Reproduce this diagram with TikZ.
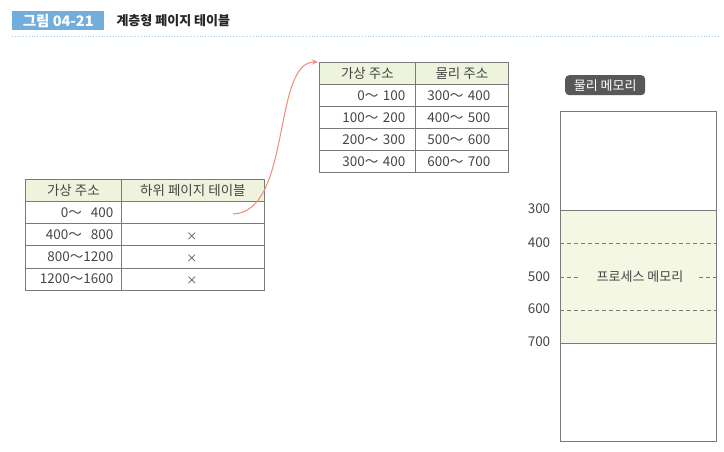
\documentclass[tikz,border=0pt]{standalone}
\usepackage{fontspec}
\setmainfont{Noto Sans CJK KR}
\usetikzlibrary{arrows.meta,calc}
\definecolor{hdrblue}{HTML}{72AEDB}
\definecolor{linegray}{HTML}{7A7A7A}
\definecolor{txtgray}{HTML}{454545}
\definecolor{hdrgreen}{HTML}{EEF3DD}
\definecolor{memgreen}{HTML}{F3F7E3}
\definecolor{arrowred}{HTML}{F28B7A}
\definecolor{labeldark}{HTML}{585858}
\tikzset{
  cell/.style={draw=linegray, line width=0.8pt, anchor=north west, inner sep=0pt,
    font=\fontsize{13.5}{15}\selectfont, text=txtgray},
  hcell/.style={cell, fill=hdrgreen},
  rcell/.style={cell, align=right},
  lcell/.style={cell, align=left},
  xmark/.style={font=\fontsize{11}{12}\selectfont, text=txtgray},
  memlabel/.style={font=\fontsize{13.5}{15}\selectfont, text=txtgray},
  memdash/.style={draw=linegray, dash pattern=on 4pt off 3pt, line width=0.8pt},
}
\begin{document}
\begin{tikzpicture}[x=1pt,y=-1pt]
\useasboundingbox (0,0) rectangle (724,451);
\fill[white] (0,0) rectangle (724,451);
% header
\node[fill=hdrblue, text=white, font=\bfseries\fontsize{14.5}{15}\selectfont,
  minimum width=92pt, minimum height=19pt, inner sep=0pt, anchor=north west] (fig) at (12,11) {그림 04-21};
\node[font=\bfseries\fontsize{13}{14}\selectfont, anchor=west, text=black!85] (title) at (113,20.5) {계층형 페이지 테이블};
\draw[hdrblue!60, dotted, line width=0.8pt] (12,36) -- (720,36);

% left table
\node[hcell, minimum width=96pt, minimum height=22pt] (L01) at (25,179) {가상 주소};
\node[hcell, minimum width=143pt, minimum height=22pt] (L02) at (121,179) {하위 페이지 테이블};
\foreach \r/\t [count=\i] in {0～\ \ 400, 400～\ \ 800, 800～1200, 1200～1600}{
  \node[rcell, minimum width=96pt, minimum height=22.2pt, text width=80pt] (L\i1) at (25,{201+22.2*(\i-1)}) {\r};
  \node[cell, minimum width=143pt, minimum height=22.2pt] (L\i2) at (121,{201+22.2*(\i-1)}) {};
}
\node[xmark] (x2) at ($(L22.center)+(-1,2)$) {×};
\node[xmark] (x3) at ($(L32.center)+(-1,2)$) {×};
\node[xmark] (x4) at ($(L42.center)+(-1,2)$) {×};

% top table
\node[hcell, minimum width=96pt, minimum height=22pt] (T01) at (319,62) {가상 주소};
\node[hcell, minimum width=93pt, minimum height=22pt] (T02) at (415,62) {물리 주소};
\foreach \a/\b [count=\i] in {0～\ 100/300～\ 400, 100～\ 200/400～\ 500, 200～\ 300/500～\ 600, 300～\ 400/600～\ 700}{
  \node[rcell, minimum width=96pt, minimum height=22pt, text width=76pt] (T\i1) at (319,{84+22*(\i-1)}) {\a};
  \node[lcell, minimum width=93pt, minimum height=22pt, text width=69pt] (T\i2) at (415,{84+22*(\i-1)}) {\b};
}

% arrow
\coordinate (astart) at (233,214);
\coordinate (aend) at (T01.north west);
\draw[arrowred, line width=1pt, -{Stealth[length=6pt,width=5pt]}]
  (astart) .. controls (292,212) and (272,62) .. ($(aend)+(-1,0)$);

% physical memory
\node[fill=labeldark, text=white, rounded corners=4pt, font=\fontsize{13}{14}\selectfont,
  minimum width=80pt, minimum height=20pt, inner sep=0pt, anchor=north west] (memtitle) at (565,75) {물리 메모리};
\node[draw=linegray, line width=0.9pt, minimum width=156pt, minimum height=330pt, anchor=north west, inner sep=0pt] (mem) at (560,111) {};
\node[fill=memgreen, draw=linegray, line width=0.9pt, minimum width=156pt, minimum height=133pt, anchor=north west, inner sep=0pt] (proc) at (560,210) {};
\node[memlabel, font=\fontsize{13}{14}\selectfont] (ptext) at (640,277) {프로세스 메모리};
\draw[memdash] (proc.west |- 0,243) -- (proc.east |- 0,243);
\draw[memdash] (proc.west |- 0,310) -- (proc.east |- 0,310);
\draw[memdash] (proc.west |- 0,277) -- ($(ptext.west)+(-14,0)$);
\draw[memdash] ($(ptext.east)+(12,0)$) -- (proc.east |- 0,277);
\foreach \v/\y in {300/209, 400/243, 500/277, 600/309, 700/342}{
  \node[memlabel, anchor=center] (m\v) at (539,\y) {\v};
}
\end{tikzpicture}
\end{document}
